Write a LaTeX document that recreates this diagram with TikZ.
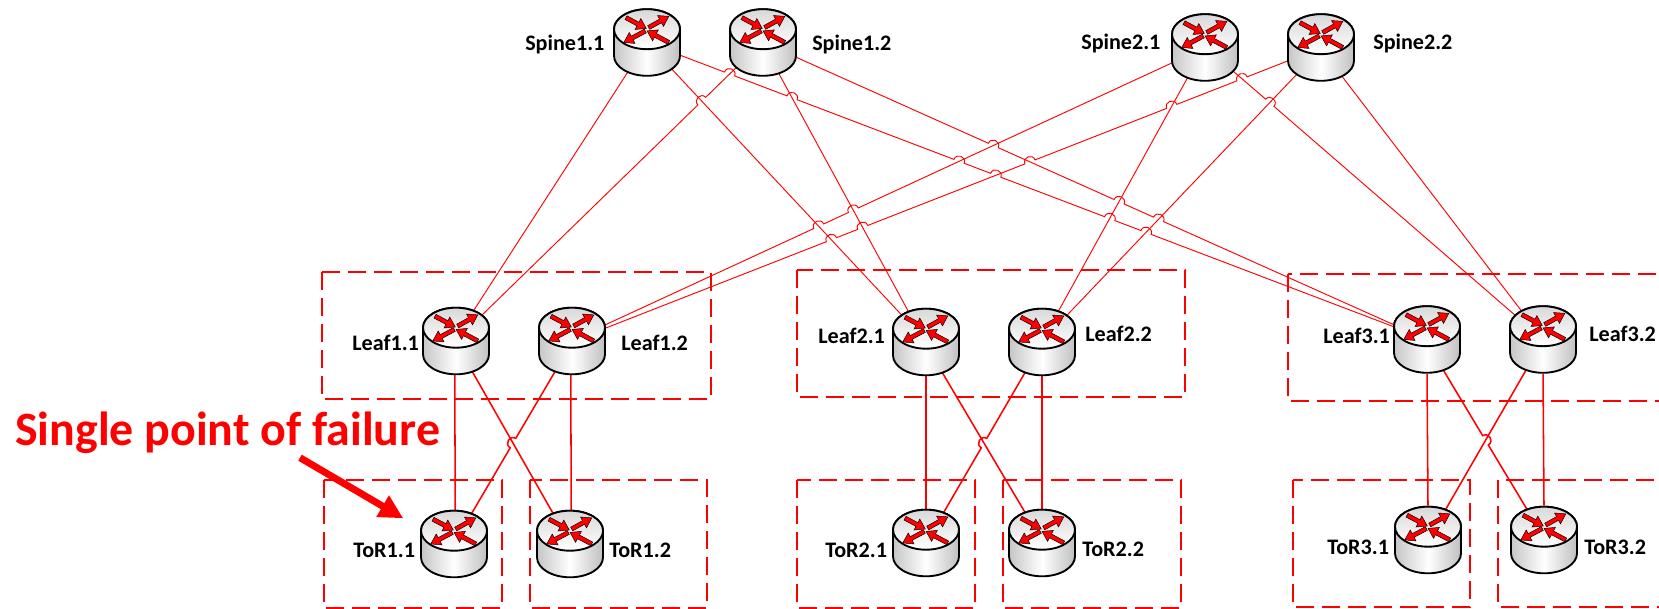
\documentclass[tikz,border=0pt]{standalone}
\usepackage{fontspec}
\setmainfont{Carlito}
\usetikzlibrary{calc,arrows.meta}
\definecolor{netred}{RGB}{255,0,0}
\newcommand\hop[4]{%
 -- ($(intersection of #1--#2 and #3--#4)!4.1pt!(#1)$) coordinate (ha)
 coordinate (hb) at ($(intersection of #1--#2 and #3--#4)!4.1pt!(#2)$)
 .. controls ($(ha)!5.4pt!90:(hb)$) and ($(hb)!5.4pt!-90:(ha)$) .. (hb)}
\tikzset{
 x=0.75pt,y=-0.75pt,
 routerbox/.style={circle,minimum size=51pt,inner sep=0pt},
 link/.style={draw=netred,line width=0.7pt},
 downlink/.style={draw=netred,line width=1.15pt},
 groupbox/.style={draw=netred,line width=1.3pt,dash pattern=on 13.5pt off 6pt},
 lab/.style={anchor=base west,inner sep=0pt,font=\fontsize{16.6pt}{18pt}\selectfont\bfseries},
 callout/.style={anchor=base west,inner sep=0pt,text=netred,font=\fontsize{35.9pt}{38pt}\selectfont\bfseries},
 arrowface/.style={fill=netred,draw=black,line width=0.35pt,line join=miter},
 routericon/.pic={
  \draw[line width=1.4pt,left color=gray!45,right color=gray!50,middle color=white]
    (-33,-13.3) -- (-33,13.3) arc[start angle=180,end angle=360,x radius=24.75pt,y radius=15pt] -- (33,-13.3)
    arc[start angle=0,end angle=180,x radius=24.75pt,y radius=15pt] -- cycle;
  \draw[line width=1.4pt,top color=gray!30,bottom color=white] (0,-13.3) ellipse[x radius=24.75pt,y radius=15pt];
  \foreach \tx/\ty/\a/\L in {-21/-24.8/-28/23, 1.7/-15/29/23, -1.7/-11.5/208/24.4, 21.7/-0.1/152/24.5}{
   \draw[arrowface,shift={(\tx,\ty)},rotate=\a]
     (0,-2.1) -- ({\L-9.5},-2.1) -- ({\L-9.5},-6.2) -- (\L,0) -- ({\L-9.5},6.2) -- ({\L-9.5},2.1) -- (0,2.1) -- cycle;
  }
 }
}
\begin{document}
\begin{tikzpicture}
\useasboundingbox (0,0) rectangle (1659,609);
\clip (0,0) rectangle (1659,609);
% routers (anchors)
\node[routerbox] (S11) at (647,42.5) {};
\node[routerbox] (S12) at (763,42.5) {};
\node[routerbox] (S21) at (1205,47.5) {};
\node[routerbox] (S22) at (1321,47.5) {};
\node[routerbox] (L11) at (456,341) {};
\node[routerbox] (L12) at (572,341) {};
\node[routerbox] (L21) at (926,342) {};
\node[routerbox] (L22) at (1042,342) {};
\node[routerbox] (L31) at (1427,339.5) {};
\node[routerbox] (L32) at (1543,339.5) {};
\node[routerbox] (T11) at (454,544) {};
\node[routerbox] (T12) at (570,544) {};
\node[routerbox] (T21) at (926,543) {};
\node[routerbox] (T22) at (1042,543) {};
\node[routerbox] (T31) at (1428,540) {};
\node[routerbox] (T32) at (1544,540) {};
% dashed groups
\draw[groupbox] (322,272) rectangle (711,399);
\draw[groupbox] (797,270) rectangle (1185,397);
\draw[groupbox] (1288,274) rectangle (1670,401);
\draw[groupbox] (324,480) rectangle (502,608);
\draw[groupbox] (530,480) rectangle (707,608);
\draw[groupbox] (797,480) rectangle (975,608);
\draw[groupbox] (1003,480) rectangle (1181,608);
\draw[groupbox] (1293,480) rectangle (1470,607);
\draw[groupbox] (1498,480) rectangle (1670,607);
% spine-leaf links without hops
\draw[link] (S11.237) -- (L11.60);
\draw[link] (S11.313) -- (L21.132);
\draw[link] (S12.297) -- (L21.120);
\draw[link] (S21.240) -- (L22.62);
\draw[link] (S22.228) -- (L22.47);
\draw[link] (S22.306) -- (L32.127);
% spine-leaf links with hops
\draw[link] (L11.45) \hop{L11.45}{S12.223}{S11.313}{L21.132} -- (S12.223);
\draw[link] (S21.320) \hop{S21.320}{L32.139}{S22.228}{L22.47} -- (L32.139);
\draw[link] (L12.26)
  \hop{L12.26}{S21.205}{S11.313}{L21.132}
  \hop{L12.26}{S21.205}{S12.297}{L21.120} -- (S21.205);
\draw[link] (L12.21)
  \hop{L12.21}{S22.202}{S11.313}{L21.132}
  \hop{L12.21}{S22.202}{S12.297}{L21.120}
  \hop{L12.21}{S22.202}{S12.336}{L31.156}
  \hop{L12.21}{S22.202}{S21.240}{L22.62}
  \hop{L12.21}{S22.202}{S21.320}{L32.139} -- (S22.202);
\draw[link] (S11.339)
  \hop{S11.339}{L31.159}{S12.223}{L11.45}
  \hop{S11.339}{L31.159}{S12.297}{L21.120}
  \hop{S11.339}{L31.159}{S21.205}{L12.26}
  \hop{S11.339}{L31.159}{S22.202}{L12.21}
  \hop{S11.339}{L31.159}{S21.240}{L22.62}
  \hop{S11.339}{L31.159}{S22.228}{L22.47} -- (L31.159);
\draw[link] (S12.336)
  \hop{S12.336}{L31.156}{S21.205}{L12.26}
  \hop{S12.336}{L31.156}{S21.240}{L22.62}
  \hop{S12.336}{L31.156}{S22.228}{L22.47} -- (L31.156);
% leaf-ToR links
\draw[downlink] (L11.268) -- (T11.88);
\draw[downlink] (L11.298) -- (T12.119);
\draw[downlink] (T11.60) \hop{T11.60}{L12.241}{L11.298}{T12.119} -- (L12.241);
\draw[downlink] (L12.268) -- (T12.88);
\draw[downlink] (L21.270) -- (T21.90);
\draw[downlink] (L21.298) -- (T22.119);
\draw[downlink] (T21.60) \hop{T21.60}{L22.241}{L21.298}{T22.119} -- (L22.241);
\draw[downlink] (L22.270) -- (T22.90);
\draw[downlink] (L31.270) -- (T31.90);
\draw[downlink] (T31.60) -- (L32.241);
\draw[downlink] (L31.298) \hop{L31.298}{T32.119}{L32.241}{T31.60} -- (T32.119);
\draw[downlink] (L32.270) -- (T32.90);
% router icons
\foreach \r in {S11,S12,S21,S22,L11,L12,L21,L22,L31,L32,T11,T12,T21,T22,T31,T32}{
  \pic at (\r) {routericon};
}
% labels
\node[lab] (lS11) at (525,51) {Spine1.1};
\node[lab] (lS12) at (812,51) {Spine1.2};
\node[lab] (lS21) at (1081,50) {Spine2.1};
\node[lab] (lS22) at (1373,50) {Spine2.2};
\node[lab] (lL11) at (352,351) {Leaf1.1};
\node[lab] (lL12) at (621,351) {Leaf1.2};
\node[lab] (lL21) at (818,344) {Leaf2.1};
\node[lab] (lL22) at (1085,342) {Leaf2.2};
\node[lab] (lL31) at (1323,344) {Leaf3.1};
\node[lab] (lL32) at (1589,342) {Leaf3.2};
\node[lab] (lT11) at (353,557) {ToR1.1};
\node[lab] (lT12) at (609,557) {ToR1.2};
\node[lab] (lT21) at (825,557) {ToR2.1};
\node[lab] (lT22) at (1082,556) {ToR2.2};
\node[lab] (lT31) at (1327,554) {ToR3.1};
\node[lab] (lT32) at (1584,554) {ToR3.2};
% callout
\node[callout] (spof) at (15,445) {Single point of failure};
\coordinate (spoftail) at (300,457.7);
\coordinate (spoftip) at (403.3,518.3);
\draw[draw=netred,line width=5.2pt,-{Triangle[length=18pt,width=17.5pt,fill=netred]}] (spoftail) -- (spoftip);
\end{tikzpicture}
\end{document}
